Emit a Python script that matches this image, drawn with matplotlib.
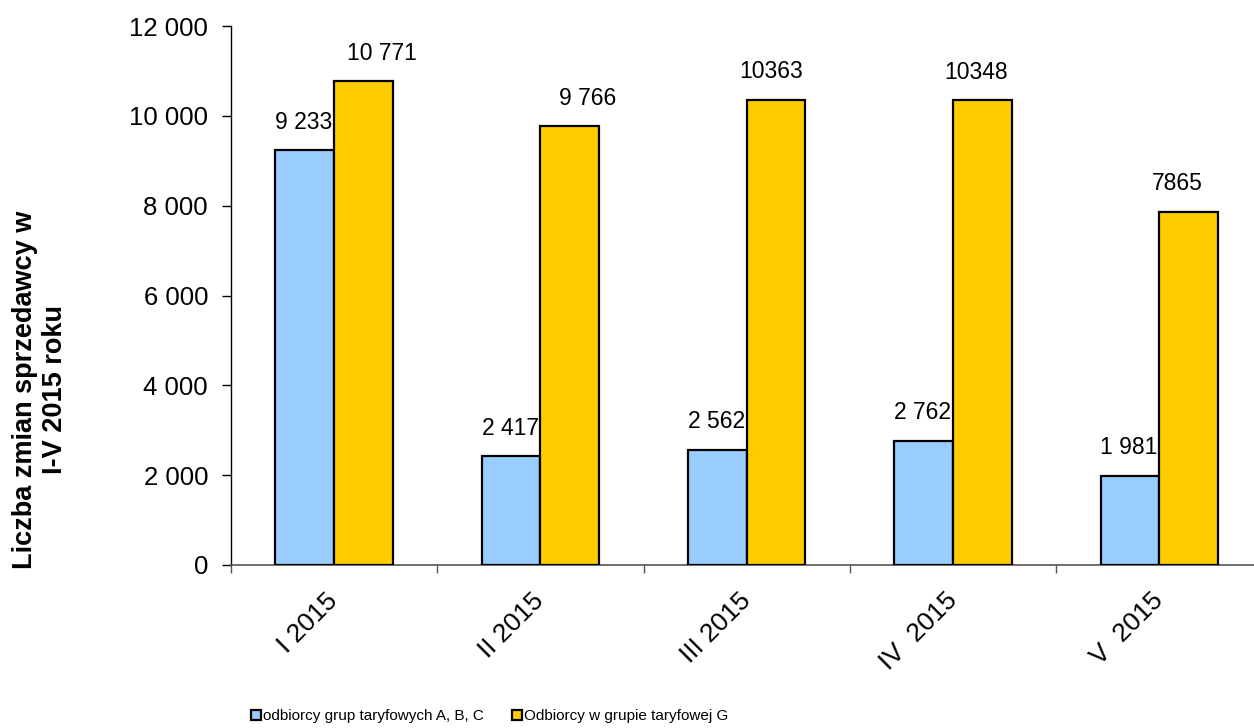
import matplotlib
matplotlib.use("Agg")
import matplotlib.pyplot as plt
import numpy as np

plt.rcParams['font.family'] = ['Liberation Sans', 'DejaVu Sans']

categories = ["I 2015", "II 2015", "III 2015", "IV  2015", "V  2015"]
series_abc = [9233, 2417, 2562, 2762, 1981]
series_g = [10771, 9766, 10363, 10348, 7865]
labels_abc = ["9 233", "2 417", "2 562", "2 762", "1 981"]
labels_g = ["10 771", "9 766", "10363", "10348", "7865"]
legend_labels = ["odbiorcy grup taryfowych A, B, C", "Odbiorcy w grupie taryfowej G"]
ytick_labels = ["0", "2 000", "4 000", "6 000", "8 000", "10 000", "12 000"]
yticks = [0, 2000, 4000, 6000, 8000, 10000, 12000]

# label horizontal shifts (pixels) for the G series labels
g_label_shift = [18.5, 17.5, -5, -6.5, -11]

W, H = 1254, 728
fig = plt.figure(figsize=(W / 100, H / 100), dpi=100)
ax = fig.add_axes([231 / W, 163 / H, 1031.5 / W, 539 / H])

x = np.arange(len(categories))
bw = 0.2845
c_blue = "#99CCFF"
c_yel = "#FFCC00"
b1 = ax.bar(x - bw / 2, series_abc, bw, color=c_blue, edgecolor="black", linewidth=1.6, zorder=3)
b2 = ax.bar(x + bw / 2, series_g, bw, color=c_yel, edgecolor="black", linewidth=1.6, zorder=3)

for xi, v, t in zip(x, series_abc, labels_abc):
    ax.annotate(t, (xi - bw / 2, v), xytext=(-1 * 0.72, 12), textcoords="offset points",
                ha="center", va="bottom", fontsize=16.5)
for xi, v, t, s in zip(x, series_g, labels_g, g_label_shift):
    ax.annotate(t, (xi + bw / 2, v), xytext=(s * 0.72, 12), textcoords="offset points",
                ha="center", va="bottom", fontsize=16.5)

ax.set_xlim(-0.5, len(categories) - 0.5)
ax.set_ylim(0, 12000)
ax.set_yticks(yticks)
ax.set_yticklabels(ytick_labels, fontsize=18.5)
ax.tick_params(axis="y", direction="out", length=6.5, width=1, pad=10, color="black")

ax.set_xticks(np.arange(len(categories) + 1) - 0.5)
ax.set_xticklabels([])
ax.tick_params(axis="x", which="major", direction="out", length=5.5, width=1, color="#555555")
ax.set_xticks(x, minor=True)
ax.set_xticklabels(categories, minor=True, rotation=45, ha="right", va="center",
                   rotation_mode="anchor", fontsize=19)
ax.tick_params(axis="x", which="minor", length=0, pad=23)

for s in ["top", "right"]:
    ax.spines[s].set_visible(False)
ax.spines["left"].set_color("black")
ax.spines["left"].set_linewidth(1)
ax.spines["bottom"].set_color("#555555")
ax.spines["bottom"].set_linewidth(1.2)

fig.text(40 / W, 1 - 390 / H, "Liczba zmian sprzedawcy w\nI-V 2015 roku", rotation=90,
         ha="center", va="center", multialignment="center", fontsize=19.5, fontweight="bold",
         linespacing=1.15)

leg = fig.legend([b1, b2], legend_labels, loc="center left", bbox_to_anchor=(251 / W, 1 - 716 / H),
                 ncol=2, frameon=False, handlelength=0.65, handleheight=0.65, handletextpad=0.15,
                 columnspacing=1.8, borderpad=0, borderaxespad=0,
                 prop={"size": 11})

fig.savefig("out.png", dpi=100)
